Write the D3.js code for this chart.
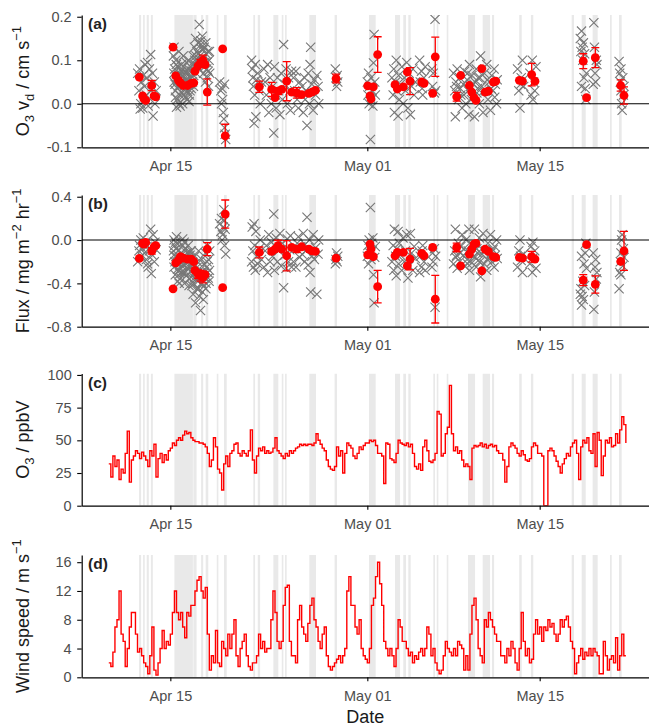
<!DOCTYPE html>
<html>
<head>
<meta charset="utf-8">
<script src="https://cdnjs.cloudflare.com/ajax/libs/d3/7.8.5/d3.min.js"></script>
<style>
  body { margin: 0; background: #fff; }
  svg { font-family: "Liberation Sans", Arial, sans-serif; }
</style>
</head>
<body>
<div id="chart"></div>
<script>
// times are given as decimal day of April (31 = May 01 00:00)

// flagged periods (grey bands), start / end
var bandStart = [12.46, 12.79, 13.08, 13.42, 15.33, 16.87, 17.5, 17.87, 18.77, 19.36, 21.74, 22.1, 23.37, 24.05, 24.32, 26.29, 28.34,
  31.14, 33.25, 33.92, 34.33, 36.36, 36.64, 37.45, 39.18, 40.37, 41.13, 43.34, 44.29, 47.6, 48.41, 49.3, 50.71, 51.44];
var bandEnd = [12.625, 12.92, 13.25, 13.58, 16.83, 17.13, 17.67, 18.08, 18.9, 19.58, 21.88, 22.29, 23.77, 24.18, 24.45, 26.83, 28.54,
  31.68, 33.66, 34.14, 34.52, 36.5, 36.77, 37.58, 39.75, 40.97, 41.3, 43.54, 44.48, 47.79, 48.74, 49.71, 50.85, 51.66];

// red points: averaged vd and flux with error bars
var redDay = [12.48, 12.75, 12.86, 13.0, 13.49, 13.68, 13.82,
  15.22, 15.44, 15.66, 15.82, 16.05, 16.4, 16.7, 16.9, 17.0, 17.25, 17.45, 17.65, 17.82, 18.0,
  19.25, 19.46,
  22.23, 23.23, 23.5, 23.75, 24.05, 24.45, 24.86, 25.27, 25.67, 26.25, 26.5, 26.78,
  28.46,
  31.03, 31.22, 31.3, 31.49, 31.84,
  33.25, 33.44, 33.93, 34.25, 34.47,
  35.42, 35.61,
  36.31, 36.52,
  38.26, 38.58, 39.29, 39.48, 39.67, 39.83, 40.3, 40.57, 40.83, 41.24, 41.43,
  43.35, 43.6, 44.35, 44.62,
  48.54, 48.81, 49.52,
  51.58, 51.85];
var vdVal = [0.061, 0.018, 0.011, 0.008, 0.042, 0.018, 0.016,
  0.13, 0.064, 0.054, 0.048, 0.042, 0.042, 0.047, 0.048, 0.075, 0.087, 0.094, 0.1, 0.09, 0.027,
  0.126, -0.074,
  0.039, 0.033, 0.014, 0.029, 0.033, 0.052, 0.027, 0.025, 0.021, 0.024, 0.027, 0.031,
  0.058,
  0.041, 0.018, 0.011, 0.039, 0.113,
  0.044, 0.034, 0.039, 0.073, 0.052,
  0.05, 0.047,
  0.024, 0.108,
  0.016, 0.065, 0.042, 0.027, 0.014, 0.008, 0.081, 0.027, 0.029, 0.05, 0.052,
  0.054, 0.052, 0.067, 0.052,
  0.098, 0.014, 0.106,
  0.042, 0.019];
var vdErr = [0, 0, 0, 0, 0.012, 0, 0,
  0, 0, 0, 0, 0, 0, 0, 0, 0, 0, 0.008, 0.012, 0, 0.03,
  0, 0.027,
  0.013, 0.016, 0, 0.008, 0, 0.045, 0, 0.012, 0, 0, 0, 0,
  0.01,
  0, 0, 0, 0, 0.041,
  0, 0, 0, 0, 0.031,
  0, 0,
  0, 0.045,
  0.01, 0, 0, 0, 0, 0, 0, 0, 0, 0, 0,
  0, 0, 0.026, 0,
  0.017, 0, 0.023,
  0.013, 0.02];
var fluxVal = [-0.17, -0.03, -0.037, -0.022, -0.1, -0.062, -0.052,
  -0.45, -0.21, -0.185, -0.154, -0.167, -0.176, -0.176, -0.2, -0.28, -0.315, -0.33, -0.345, -0.32, -0.083,
  -0.44, 0.24,
  -0.114, -0.105, -0.083, -0.052, -0.083, -0.145, -0.068, -0.083, -0.062, -0.083, -0.1, -0.105,
  -0.167,
  -0.136, -0.037, -0.083, -0.154, -0.43,
  -0.145, -0.114, -0.114, -0.238, -0.176,
  -0.123, -0.145,
  -0.068, -0.546,
  -0.068, -0.238, -0.13, -0.083, -0.037, -0.031, -0.284, -0.083, -0.105, -0.154, -0.16,
  -0.16, -0.167, -0.154, -0.176,
  -0.37, -0.043, -0.41,
  -0.198, -0.1];
var fluxErr = [0, 0, 0, 0, 0.03, 0, 0,
  0, 0, 0, 0, 0, 0, 0, 0, 0, 0.04, 0.05, 0.05, 0, 0.06,
  0, 0.13,
  0.05, 0.02, 0, 0.05, 0, 0.14, 0, 0.03, 0, 0, 0, 0,
  0,
  0, 0, 0, 0, 0.15,
  0, 0, 0, 0, 0.1,
  0, 0,
  0, 0.22,
  0.04, 0, 0, 0, 0, 0, 0, 0, 0, 0, 0,
  0, 0, 0.05, 0,
  0.05, 0, 0.08,
  0, 0.18];

// individual half-hour values (grey crosses): [day, value]
var crossVd = [
  [12.35,0.07],[12.45,0.03],[12.5,0.08],[12.6,0.0],[12.65,0.05],[12.75,-0.01],[12.8,0.065],[12.9,0.04],[12.95,0.09],[13.05,0.02],
  [13.1,0.06],[13.2,-0.005],[13.3,0.08],[13.4,0.113],[13.45,0.03],[13.55,0.07],[13.6,-0.028],[13.7,0.05],[13.75,0.0],[13.85,0.03],
  [12.55,-0.012],[13.15,0.095],
  [15.25,0.11],[15.3,0.05],[15.35,0.08],[15.4,0.03],[15.45,0.1],[15.5,0.06],[15.55,0.01],[15.6,0.085],[15.65,0.04],[15.7,0.12],
  [15.75,0.07],[15.8,-0.005],[15.85,0.05],[15.9,0.09],[15.95,0.025],[16.0,0.065],[16.05,0.11],[16.1,0.04],[16.15,0.075],[16.2,0.015],
  [16.25,0.055],[16.3,0.095],[16.35,0.03],[16.4,0.07],[16.45,0.045],[16.5,0.1],[16.55,0.02],[16.6,0.06],[16.65,0.085],[16.7,0.035],
  [16.75,0.075],[16.8,0.05],[16.85,0.11],[16.9,0.065],[16.95,0.13],[17.0,0.09],[17.05,0.15],[17.1,0.07],[17.15,0.12],[17.2,0.1],
  [17.25,0.14],[17.3,0.08],[17.35,0.182],[17.4,0.11],[17.45,0.135],[17.5,0.09],[17.55,0.125],[17.6,0.155],[17.65,0.105],[17.7,0.07],
  [17.75,0.13],[17.8,0.095],[17.85,0.05],[17.9,0.115],[17.95,0.08],[18.0,0.06],[18.05,0.12],[18.1,0.04],[18.15,0.1],[18.2,0.07],
  [15.5,-0.008],[16.0,0.0],[16.4,0.01],[15.3,0.13],[15.6,0.055],[15.9,0.045],[16.2,0.06],[16.6,0.03],
  [15.28,0.07],[15.38,0.045],[15.48,0.09],[15.58,0.035],[15.68,0.065],[15.78,0.02],[15.88,0.075],[15.98,0.05],[16.08,0.085],[16.18,0.035],
  [16.28,0.07],[16.38,0.05],[16.48,0.08],[16.58,0.045],[16.68,0.065],[16.78,0.09],[16.88,0.04],[16.98,0.1],[17.08,0.11],[17.18,0.085],
  [17.28,0.115],[17.38,0.095],[17.48,0.145],[17.58,0.1],[17.68,0.125],[17.78,0.085],[17.88,0.14],[17.98,0.095],[18.08,0.075],[18.18,0.12],
  [15.42,0.015],[15.72,0.0],[16.12,0.02],[16.52,0.005],
  [19.0,0.05],[19.1,0.03],[19.15,0.0],[19.2,0.035],[19.3,-0.02],[19.35,-0.035],[19.4,-0.055],[19.45,-0.07],[19.5,-0.082],[19.25,0.01],[19.4,0.045],
  [21.6,0.1],[21.65,0.08],[21.7,0.06],[21.75,0.04],[21.8,-0.045],[21.85,0.02],[21.9,0.09],[22.0,0.055],[22.1,0.07],[22.2,0.03],[22.3,0.0],[22.4,0.05],[21.95,-0.03],
  [22.6,0.08],[22.7,0.05],[22.8,0.02],[22.9,0.09],[23.0,-0.02],[23.1,0.06],[23.2,0.0],[23.3,0.04],[23.4,-0.067],[23.45,0.085],
  [23.55,0.02],[23.6,-0.01],[23.7,0.06],[23.8,0.03],[23.9,-0.025],[24.0,0.07],[24.1,0.01],[24.2,0.136],[24.3,0.045],[24.4,0.08],
  [24.5,0.0],[24.6,0.06],[24.7,0.03],[24.75,-0.015],[24.85,0.075],
  [25.0,0.06],[25.1,0.03],[25.2,0.075],[25.3,0.01],[25.4,-0.01],[25.5,0.05],[25.6,0.02],[25.7,0.04],[25.8,-0.02],[25.9,0.06],
  [26.0,0.03],[26.1,-0.05],[26.2,0.07],[26.3,0.0],[26.4,0.13],[26.5,0.045],[26.6,-0.015],[26.7,0.055],[26.8,0.02],[26.9,0.065],
  [27.0,0.04],[27.05,0.0],[26.35,0.09],[25.95,0.01],
  [28.4,0.08],[28.5,0.04],[28.55,0.065],[28.6,0.05],[28.45,0.06],
  [31.0,0.05],[31.05,0.02],[31.1,0.07],[31.15,0.0],[31.2,0.04],[31.25,-0.082],[31.3,0.06],[31.35,0.01],[31.4,0.03],[31.5,0.094],
  [31.55,0.159],[31.6,0.05],[31.45,-0.005],[31.65,0.02],
  [33.0,0.06],[33.1,0.02],[33.15,0.08],[33.2,-0.02],[33.3,0.05],[33.35,0.1],[33.4,0.03],[33.5,-0.028],[33.55,0.065],[33.6,0.01],
  [33.7,0.045],[33.8,0.085],[33.9,0.0],[34.0,0.06],[34.1,0.03],[34.2,0.095],[34.3,-0.01],[34.4,0.07],[34.5,-0.025],[34.6,0.04],
  [34.7,0.08],[34.8,0.02],[34.9,0.05],
  [35.25,0.1],[35.3,0.05],[35.4,0.075],[35.5,0.02],[35.6,0.06],[35.7,0.085],[35.45,0.035],
  [36.25,0.08],[36.3,0.04],[36.45,0.025],[36.5,0.194],[36.55,0.03],[36.35,0.07],
  [38.0,0.07],[38.1,0.03],[38.15,-0.03],[38.2,0.05],[38.3,0.08],[38.4,0.01],[38.5,0.06],[38.6,0.02],[38.7,-0.01],[38.8,0.045],
  [38.9,0.075],[39.0,0.0],[39.1,0.055],[39.2,0.03],[39.25,-0.025],[39.3,0.09],[39.4,0.04],[39.5,0.065],[39.6,0.015],[39.7,-0.03],
  [39.75,0.05],[39.85,0.08],[39.9,0.025],[40.0,0.06],[40.1,0.0],[40.2,0.11],[40.3,0.04],[40.4,-0.02],[40.5,0.07],[40.6,0.03],
  [40.7,0.09],[40.8,0.01],[40.9,0.05],[41.0,-0.015],[41.1,0.065],[41.2,0.03],[41.3,0.08],[41.4,0.045],[41.5,0.0],[41.55,0.055],
  [38.25,0.04],[38.55,0.035],[38.85,0.02],[39.15,0.07],[39.45,0.01],[39.65,0.045],[39.95,0.035],[40.15,0.06],[40.45,0.03],[40.75,0.055],
  [41.05,0.035],[41.35,0.015],
  [43.2,0.08],[43.3,0.03],[43.4,-0.01],[43.5,0.06],[43.6,0.1],[43.7,0.04],[44.2,0.07],[44.3,0.02],[44.4,0.1],[44.5,0.05],
  [44.6,0.03],[44.7,0.085],[43.45,0.045],[44.45,0.01],
  [48.3,0.15],[48.35,0.12],[48.4,0.167],[48.45,0.13],[48.5,0.1],[48.55,0.14],[48.6,0.06],[48.65,0.115],[48.7,0.035],[48.75,0.01],
  [48.8,0.07],[48.4,0.04],[49.4,0.186],[49.45,0.13],[49.5,0.07],[49.55,0.05],[49.6,0.1],[49.65,0.09],[49.35,0.045],
  [51.45,0.097],[51.5,0.07],[51.55,0.05],[51.6,0.03],[51.65,0.0],[51.7,-0.015],[51.75,0.06],[51.8,0.02],[51.6,0.08],[51.85,0.04]
];
var crossFlux = [
  [12.35,-0.2],[12.45,-0.1],[12.5,-0.05],[12.6,0.0],[12.65,-0.15],[12.75,-0.08],[12.8,0.02],[12.9,-0.12],[12.95,-0.03],[13.05,-0.18],
  [13.1,-0.06],[13.2,-0.25],[13.3,-0.1],[13.4,0.1],[13.45,-0.31],[13.55,-0.14],[13.6,0.05],[13.7,-0.2],[13.75,-0.02],[13.85,-0.09],[13.15,-0.22],
  [15.25,-0.1],[15.3,-0.25],[15.35,-0.05],[15.4,-0.32],[15.45,-0.15],[15.5,0.03],[15.55,-0.2],[15.6,-0.38],[15.65,-0.1],[15.7,-0.28],
  [15.75,-0.02],[15.8,-0.18],[15.85,-0.35],[15.9,-0.12],[15.95,-0.24],[16.0,0.01],[16.05,-0.3],[16.1,-0.15],[16.15,-0.4],[16.2,-0.08],
  [16.25,-0.22],[16.3,-0.33],[16.35,-0.12],[16.4,-0.26],[16.45,-0.05],[16.5,-0.19],[16.55,-0.36],[16.6,-0.14],[16.65,-0.29],[16.7,-0.1],
  [16.75,-0.42],[16.8,-0.2],[16.85,-0.5],[16.9,-0.25],[16.95,-0.35],[17.0,-0.15],[17.05,-0.58],[17.1,-0.3],[17.15,-0.45],[17.2,-0.2],
  [17.25,-0.38],[17.3,-0.1],[17.35,-0.52],[17.4,-0.28],[17.45,-0.65],[17.5,-0.4],[17.55,-0.18],[17.6,-0.48],[17.65,-0.3],[17.7,-0.43],
  [17.75,-0.22],[17.8,-0.35],[17.85,-0.12],[17.9,-0.4],[17.95,-0.25],[18.0,-0.05],[18.05,-0.3],[18.1,-0.18],[18.15,-0.38],[18.2,-0.1],
  [15.3,0.0],[16.0,-0.05],[15.6,-0.22],[15.9,-0.3],[16.2,-0.17],[16.6,-0.24],
  [15.28,-0.14],[15.38,-0.2],[15.48,-0.08],[15.58,-0.27],[15.68,-0.17],[15.78,-0.31],[15.88,-0.21],[15.98,-0.13],[16.08,-0.23],[16.18,-0.3],
  [16.28,-0.16],[16.38,-0.2],[16.48,-0.27],[16.58,-0.11],[16.68,-0.34],[16.78,-0.28],[16.88,-0.4],[16.98,-0.3],[17.08,-0.36],[17.18,-0.25],
  [17.28,-0.45],[17.38,-0.33],[17.48,-0.3],[17.58,-0.4],[17.68,-0.55],[17.78,-0.3],[17.88,-0.45],[17.98,-0.2],[18.08,-0.35],[18.18,-0.28],
  [15.42,-0.02],[15.72,-0.4],[16.12,-0.02],[16.52,-0.42],
  [19.0,0.15],[19.1,0.08],[19.15,0.2],[19.2,0.0],[19.3,0.12],[19.35,0.28],[19.4,-0.05],[19.45,0.1],[19.5,-0.13],[19.25,0.05],[19.4,0.18],
  [21.6,-0.2],[21.65,0.12],[21.7,-0.1],[21.75,-0.25],[21.8,0.15],[21.85,-0.05],[21.9,-0.28],[22.0,-0.15],[22.1,-0.22],[22.2,-0.08],[22.3,0.0],[22.4,-0.18],[21.95,0.08],
  [22.6,-0.25],[22.7,-0.1],[22.8,-0.05],[22.9,-0.3],[23.0,0.05],[23.1,-0.2],[23.2,-0.02],[23.3,-0.15],[23.4,0.24],[23.45,-0.28],
  [23.55,-0.06],[23.6,0.02],[23.7,-0.2],[23.8,-0.1],[23.9,0.06],[24.0,-0.24],[24.1,-0.03],[24.2,-0.44],[24.3,-0.14],[24.4,-0.26],
  [24.5,0.01],[24.6,-0.2],[24.7,-0.09],[24.75,0.04],[24.85,-0.25],
  [25.0,-0.2],[25.1,-0.08],[25.2,-0.25],[25.3,-0.03],[25.4,0.03],[25.5,-0.16],[25.6,-0.06],[25.7,-0.13],[25.8,0.06],[25.9,-0.2],
  [26.0,-0.1],[26.1,0.21],[26.2,-0.23],[26.3,0.0],[26.4,-0.48],[26.5,-0.15],[26.6,0.05],[26.7,-0.18],[26.8,-0.07],[26.9,-0.5],
  [27.0,-0.13],[27.05,0.0],[26.35,-0.3],[25.95,-0.04],
  [28.4,-0.22],[28.5,-0.12],[28.55,-0.2],[28.6,-0.15],[28.45,-0.18],
  [31.0,-0.15],[31.05,-0.05],[31.1,-0.22],[31.15,0.0],[31.2,-0.12],[31.25,0.3],[31.3,-0.18],[31.35,-0.03],[31.4,-0.1],[31.5,-0.32],
  [31.55,-0.58],[31.6,-0.16],[31.45,0.02],[31.65,-0.06],
  [33.0,-0.2],[33.1,-0.05],[33.15,-0.28],[33.2,0.1],[33.3,-0.15],[33.35,-0.33],[33.4,-0.08],[33.5,0.08],[33.55,-0.22],[33.6,-0.03],
  [33.7,-0.14],[33.8,-0.28],[33.9,0.02],[34.0,-0.2],[34.1,-0.1],[34.2,0.05],[34.3,-0.35],[34.4,-0.24],[34.5,0.06],[34.6,-0.12],
  [34.7,-0.28],[34.8,-0.06],[34.9,-0.17],
  [35.25,-0.3],[35.3,-0.15],[35.4,-0.25],[35.5,-0.05],[35.6,-0.2],[35.7,-0.28],[35.45,-0.1],
  [36.25,-0.25],[36.3,-0.12],[36.45,-0.08],[36.5,-0.62],[36.55,-0.15],[36.35,-0.2],
  [38.0,-0.22],[38.1,-0.1],[38.15,0.1],[38.2,-0.16],[38.3,-0.26],[38.4,-0.03],[38.5,-0.2],[38.6,-0.06],[38.7,0.05],[38.8,-0.14],
  [38.9,-0.24],[39.0,0.0],[39.1,-0.18],[39.2,-0.1],[39.25,0.1],[39.3,-0.28],[39.4,-0.13],[39.5,-0.21],[39.6,-0.05],[39.7,0.1],
  [39.75,-0.16],[39.85,-0.25],[39.9,-0.08],[40.0,-0.19],[40.1,0.02],[40.2,-0.34],[40.3,-0.13],[40.4,0.06],[40.5,-0.22],[40.6,-0.1],
  [40.7,-0.28],[40.8,-0.03],[40.9,-0.16],[41.0,0.05],[41.1,-0.2],[41.2,-0.09],[41.3,-0.25],[41.4,-0.14],[41.5,0.0],[41.55,-0.17],
  [38.25,-0.14],[38.55,-0.12],[38.85,-0.08],[39.15,-0.22],[39.45,-0.04],[39.65,-0.15],[39.95,-0.12],[40.15,-0.2],[40.45,-0.1],[40.75,-0.18],
  [41.05,-0.12],[41.35,-0.06],
  [43.2,-0.25],[43.3,-0.1],[43.4,0.0],[43.5,-0.19],[43.6,-0.3],[43.7,-0.13],[44.2,-0.22],[44.3,-0.06],[44.4,-0.3],[44.5,-0.16],
  [44.6,-0.1],[44.7,-0.26],[43.45,-0.15],[44.45,-0.02],
  [48.3,-0.5],[48.35,-0.45],[48.4,-0.6],[48.45,-0.52],[48.5,-0.38],[48.55,-0.55],[48.6,-0.22],[48.65,-0.42],[48.7,-0.12],[48.75,-0.03],
  [48.8,-0.26],[48.4,-0.15],[49.4,-0.64],[49.45,-0.48],[49.5,-0.25],[49.55,-0.18],[49.6,-0.36],[49.65,-0.3],[49.35,-0.12],
  [51.45,-0.45],[51.5,-0.3],[51.55,-0.2],[51.6,-0.12],[51.65,0.0],[51.7,0.05],[51.75,-0.24],[51.8,-0.08],[51.6,-0.32],[51.85,-0.16]
];

// 4-hourly series starting Apr 10 00:00
var seriesStart = 10;
var stepHours = 4;
var o3Vals = [
  32, 22, 38, 30, 35, 20,   // Apr 10
  28, 25, 40, 57, 18, 35,   // Apr 11
  38, 42, 40, 36, 41, 38,   // Apr 12
  35, 30, 42, 38, 47, 22,   // Apr 13
  36, 40, 33, 39, 35, 42,   // Apr 14
  44, 48, 46, 50, 52, 50,   // Apr 15
  54, 57, 55, 56, 52, 50,   // Apr 16
  49, 49, 48, 48, 47, 45,   // Apr 17
  40, 30, 35, 52, 45, 28,   // Apr 18
  25, 12, 32, 38, 30, 40,   // Apr 19
  42, 47, 48, 40, 38, 42,   // Apr 20
  40, 38, 42, 58, 35, 25,   // Apr 21
  38, 44, 42, 45, 40, 42,   // Apr 22
  40, 41, 44, 52, 42, 40,   // Apr 23
  38, 36, 40, 38, 42, 40,   // Apr 24
  42, 44, 45, 47, 46, 47,   // Apr 25
  46, 47, 47, 46, 48, 55,   // Apr 26
  50, 47, 44, 42, 35, 30,   // Apr 27
  28, 27, 30, 45, 38, 42,   // Apr 28
  25, 40, 48, 46, 44, 38,   // Apr 29
  36, 40, 45, 43, 46, 48,   // Apr 30
  48, 50, 49, 50, 46, 40,   // May 01
  40, 38, 17, 48, 47, 36,   // May 02
  35, 33, 40, 50, 48, 47,   // May 03
  46, 48, 45, 47, 40, 30,   // May 04
  28, 32, 27, 45, 50, 42,   // May 05
  34, 33, 35, 40, 72, 70,   // May 06
  38, 40, 55, 60, 92, 55,   // May 07
  42, 45, 40, 42, 35, 30,   // May 08
  32, 30, 20, 44, 46, 45,   // May 09
  46, 48, 45, 47, 44, 46,   // May 10
  47, 45, 46, 42, 40, 40,   // May 11
  35, 18, 30, 45, 48, 46,   // May 12
  44, 40, 38, 42, 39, 35,   // May 13
  34, 36, 45, 48, 46, 40,   // May 14
  40, 38, 0, 0, 42, 44,     // May 15
  42, 38, 34, 30, 25, 32,   // May 16
  36, 40, 38, 45, 48, 50,   // May 17
  40, 20, 45, 50, 48, 52,   // May 18
  42, 40, 55, 30, 56, 50,   // May 19
  23, 38, 50, 48, 52, 45,   // May 20
  46, 55, 48, 58, 68, 62,   // May 21
  48
];
var windVals = [
  2, 1.5, 3.5, 7, 8, 12,      // Apr 10
  6, 5, 1.5, 4, 7, 9,         // Apr 11
  9, 6, 3.5, 4, 3, 2,         // Apr 12
  1.5, 0.5, 3, 7, 1, 0.3,     // Apr 13
  2, 4, 6.5, 4, 5, 4.5,       // Apr 14
  6, 9, 12, 9, 8, 9,          // Apr 15
  7, 5.5, 9, 8.5, 10, 10,     // Apr 16
  12, 13.5, 14, 12, 11, 12.5, // Apr 17
  6, 1, 3, 2, 6.5, 2,         // Apr 18
  1.5, 5, 4, 3, 6, 4,         // Apr 19
  6, 8, 3, 1.5, 4, 5,         // Apr 20
  6, 3, 1.5, 1, 2, 2,         // Apr 21
  3, 6, 4, 5, 3.5, 4,         // Apr 22
  4, 8, 12, 9, 5, 4,          // Apr 23
  5, 10, 12.5, 12.8, 5, 3,    // Apr 24
  3, 2, 8, 10, 7, 6,          // Apr 25
  5, 7.5, 10, 11, 8, 7,       // Apr 26
  5, 4, 6, 7, 3, 1.5,         // Apr 27
  1, 1.5, 2, 2.5, 3, 2,       // Apr 28
  3, 4, 12, 14, 10, 10,       // Apr 29
  7, 6, 8, 4, 3, 2.5,         // Apr 30
  2, 4, 10, 11, 14, 16,       // May 01
  13, 10, 5, 4, 3, 4,         // May 02
  3, 1.5, 4, 8, 7, 5,         // May 03
  5, 4, 3, 3.5, 2, 3,         // May 04
  2.5, 3.5, 4, 3, 4, 7,       // May 05
  6, 3, 4, 2, 1, 0.5,         // May 06
  1, 3, 5, 4, 3.5, 3,         // May 07
  4, 3, 5, 4.5, 4, 1,         // May 08
  3, 1, 6, 10, 11, 8,         // May 09
  4, 3, 2, 8, 7, 9,           // May 10
  8, 7, 6, 5, 5, 3,           // May 11
  3, 2, 4, 3, 5, 4,           // May 12
  2, 1, 4, 9, 5, 3,           // May 13
  4, 2, 2.5, 6, 8, 6,         // May 14
  7, 5, 7, 6.5, 8, 7,         // May 15
  7.5, 6, 5, 6, 8, 7,         // May 16
  8, 8.5, 7, 5, 4, 0.5,       // May 17
  2, 3, 4, 2.5, 3.5, 3,       // May 18
  4, 3, 4, 3.5, 3, 0.5,       // May 19
  0.5, 5, 3, 1, 2.5, 3,       // May 20
  2, 5.5, 1, 3, 6, 3,         // May 21
  3
];

// tick labels
var dateTicks = [15, 31, 45];
var vdTicks = [-0.1, 0.0, 0.1, 0.2];
var fluxTicks = [-0.8, -0.4, 0.0, 0.4];
var o3Ticks = [0, 25, 50, 75, 100];
var windTicks = [0, 4, 8, 12, 16];

var svgWidth = 649;
var svgHeight = 726;
var margin = { left: 81.7, right: 0 };

function aprDay(d) {
  return new Date(Date.UTC(2016, 3, 1) + (d - 1) * 864e5);
}

var svg = d3.select("#chart")
  .append("svg")
  .attr("width", svgWidth)
  .attr("height", svgHeight);

var x = d3.scaleUtc()
  .domain([aprDay(7.8), aprDay(53.88)])
  .range([margin.left, svgWidth - margin.right]);

var panels = [
  { id: "a", top: 15, bottom: 147.3, domain: [-0.1, 0.204], ticks: vdTicks, fmt: d => d.toFixed(1),
    title: [["O", ""], ["3", "sub"], [" v", ""], ["d", "sub"], [" / cm s", ""], ["\u22121", "sup"]] },
  { id: "b", top: 195, bottom: 326.7, domain: [-0.8, 0.416], ticks: fluxTicks, fmt: d => d.toFixed(1),
    title: [["Flux / mg m", ""], ["\u22122", "sup"], [" hr", ""], ["\u22121", "sup"]] },
  { id: "c", top: 373.5, bottom: 505.7, domain: [0, 101.1], ticks: o3Ticks, fmt: d => d,
    title: [["O", ""], ["3", "sub"], [" / ppbV", ""]] },
  { id: "d", top: 555, bottom: 677.3, domain: [0, 17], ticks: windTicks, fmt: d => d,
    title: [["Wind speed / m s", ""], ["\u22121", "sup"]] }
];

// rotated y title with sub / superscripts
function drawTitle(parts, cx, cy) {
  var t = svg.append("text")
    .attr("transform", `translate(${cx},${cy}) rotate(-90)`)
    .attr("text-anchor", "middle")
    .style("font-size", "18px")
    .style("fill", "#1a1a1a");
  var shift = 0;
  parts.forEach(function(p) {
    var target = p[1] === "sub" ? 5 : (p[1] === "sup" ? -8 : 0);
    t.append("tspan")
      .attr("dy", target - shift)
      .style("font-size", p[1] ? "13px" : "18px")
      .text(p[0]);
    shift = target;
  });
}

function crossPath(s) {
  return `M${-s},${-s}L${s},${s}M${-s},${s}L${s},${-s}`;
}

panels.forEach(function(p) {
  p.y = d3.scaleLinear().domain(p.domain).range([p.bottom, p.top]);

  var g = svg.append("g").attr("class", "panel-" + p.id);

  svg.append("clipPath")
    .attr("id", "clip-" + p.id)
    .append("rect")
    .attr("x", margin.left)
    .attr("y", p.top)
    .attr("width", svgWidth - margin.left)
    .attr("height", p.bottom - p.top);

  var plot = g.append("g").attr("clip-path", `url(#clip-${p.id})`);
  p.plot = plot;

  // grey bands
  plot.selectAll("rect.band")
    .data(bandStart)
    .enter()
    .append("rect")
    .attr("class", "band")
    .attr("x", (d, i) => x(aprDay(d)))
    .attr("y", p.top)
    .attr("width", (d, i) => Math.max(1.6, x(aprDay(bandEnd[i])) - x(aprDay(d))))
    .attr("height", p.bottom - p.top)
    .attr("fill", "#e9e9e9");
});

// scatter panels (a) and (b)
function drawScatter(p, crosses, vals, errs) {
  var plot = p.plot;
  var y = p.y;

  plot.selectAll("path.cross")
    .data(crosses)
    .enter()
    .append("path")
    .attr("class", "cross")
    .attr("transform", d => `translate(${x(aprDay(d[0]))},${y(d[1])})`)
    .attr("d", crossPath(4.6))
    .attr("fill", "none")
    .attr("stroke", "#777")
    .attr("stroke-width", 1.1);

  plot.append("line")
    .attr("x1", margin.left)
    .attr("x2", svgWidth)
    .attr("y1", y(0))
    .attr("y2", y(0))
    .attr("stroke", "#000")
    .attr("stroke-width", 1.1);

  var withErr = redDay.map((d, i) => i).filter(i => errs[i] > 0);
  var eb = plot.selectAll("g.err")
    .data(withErr)
    .enter()
    .append("g")
    .attr("class", "err")
    .attr("stroke", "#ff0000")
    .attr("stroke-width", 1.3);
  eb.append("line")
    .attr("x1", i => x(aprDay(redDay[i])))
    .attr("x2", i => x(aprDay(redDay[i])))
    .attr("y1", i => y(vals[i] - errs[i]))
    .attr("y2", i => y(vals[i] + errs[i]));
  [-1, 1].forEach(function(sgn) {
    eb.append("line")
      .attr("x1", i => x(aprDay(redDay[i])) - 4)
      .attr("x2", i => x(aprDay(redDay[i])) + 4)
      .attr("y1", i => y(vals[i] + sgn * errs[i]))
      .attr("y2", i => y(vals[i] + sgn * errs[i]));
  });

  plot.selectAll("circle.red")
    .data(redDay)
    .enter()
    .append("circle")
    .attr("class", "red")
    .attr("cx", d => x(aprDay(d)))
    .attr("cy", (d, i) => y(vals[i]))
    .attr("r", 4.4)
    .attr("fill", "#ff0000");
}

drawScatter(panels[0], crossVd, vdVal, vdErr);
drawScatter(panels[1], crossFlux, fluxVal, fluxErr);

// line panels (c) and (d)
function drawSeries(p, vals) {
  var pts = vals.map((v, i) => ({ t: aprDay(seriesStart + i * stepHours / 24), v: v }));
  var line = d3.line()
    .curve(d3.curveStepAfter)
    .x(d => x(d.t))
    .y(d => p.y(d.v));
  p.plot.append("path")
    .datum(pts)
    .attr("d", line)
    .attr("fill", "none")
    .attr("stroke", "#ff0000")
    .attr("stroke-width", 1.4);
}

drawSeries(panels[2], o3Vals);
drawSeries(panels[3], windVals);

// axes, labels
panels.forEach(function(p) {
  var bottomAxis = d3.axisBottom(x)
    .tickValues(dateTicks.map(aprDay))
    .tickFormat(d3.utcFormat("%b %d"))
    .tickSizeInner(4)
    .tickSizeOuter(0)
    .tickPadding(9);

  var leftAxis = d3.axisLeft(p.y)
    .tickValues(p.ticks)
    .tickFormat(p.fmt)
    .tickSizeInner(4.5)
    .tickSizeOuter(0)
    .tickPadding(5.5);

  var xg = svg.append("g")
    .attr("transform", `translate(0, ${p.bottom})`)
    .call(bottomAxis);

  var yg = svg.append("g")
    .attr("transform", `translate(${margin.left}, 0)`)
    .call(leftAxis);

  [xg, yg].forEach(function(ax) {
    ax.select(".domain").attr("stroke", "#000").attr("stroke-width", 1.2);
    ax.selectAll(".tick line").attr("stroke", "#000").attr("stroke-width", 1.1);
    ax.selectAll(".tick text")
      .attr("fill", "#4d4d4d")
      .style("font-size", "14.5px")
      .style("font-family", "'Liberation Sans', Arial, sans-serif");
  });

  svg.append("text")
    .attr("x", 88)
    .attr("y", p.top + 14)
    .style("font-size", "15.5px")
    .style("font-weight", "bold")
    .style("fill", "#222")
    .text("(" + p.id + ")");

  drawTitle(p.title, 29, (p.top + p.bottom) / 2);
});

svg.append("text")
  .attr("x", (margin.left + svgWidth) / 2)
  .attr("y", 723)
  .attr("text-anchor", "middle")
  .style("font-size", "18px")
  .style("fill", "#1a1a1a")
  .text("Date");
</script>
</body>
</html>
